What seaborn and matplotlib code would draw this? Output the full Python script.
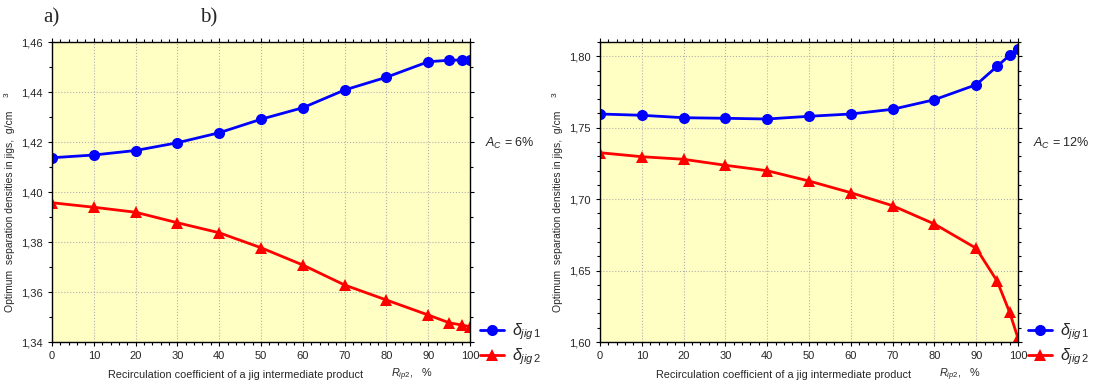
import numpy as np
import pandas as pd
import matplotlib
matplotlib.use("Agg")
import matplotlib.pyplot as plt
import seaborn as sns
from matplotlib.ticker import MultipleLocator, FuncFormatter
from matplotlib.lines import Line2D

# Data
recirc = [0, 10, 20, 30, 40, 50, 60, 70, 80, 90, 95, 98, 100]

# a) A_C = 6%
jig1_a = [1.4137, 1.4148, 1.4166, 1.4197, 1.4237, 1.4291, 1.4337, 1.4408, 1.4459, 1.4521, 1.4527, 1.4528, 1.4528]
jig2_a = [1.3957, 1.3939, 1.3919, 1.3877, 1.3837, 1.3777, 1.3708, 1.3628, 1.3568, 1.3508, 1.3477, 1.3468, 1.3461]

# b) A_C = 12%
jig1_b = [1.7596, 1.7587, 1.7570, 1.7566, 1.7561, 1.7580, 1.7596, 1.7629, 1.7696, 1.7801, 1.7930, 1.8007, 1.8049]
jig2_b = [1.7325, 1.7297, 1.7279, 1.7237, 1.7199, 1.7127, 1.7045, 1.6954, 1.6826, 1.6656, 1.6427, 1.6208, 1.6026]

series_names = ["jig1", "jig2"]
ac_labels = ["$A_C$ = 6%", "$A_C$ = 12%"]
panel_letters = ["a)", "b)"]

sns.set_style("ticks")
plt.rcParams["font.family"] = ["Liberation Sans", "DejaVu Sans"]
plt.rcParams["mathtext.fontset"] = "custom"
plt.rcParams["mathtext.rm"] = "Liberation Sans"
plt.rcParams["mathtext.it"] = "Liberation Sans:italic"
plt.rcParams["mathtext.bf"] = "Liberation Sans:bold"

fig = plt.figure(figsize=(11.01, 3.89), dpi=100)
W, H = 1101, 389
ax_a = fig.add_axes([52 / W, 47 / H, 418 / W, 300 / H])
ax_b = fig.add_axes([600 / W, 47 / H, 418 / W, 300 / H])

comma = FuncFormatter(lambda v, p: f"{v:.2f}".replace(".", ","))
palette = {"jig1": "#0000FF", "jig2": "#FF0000"}
markers = {"jig1": "o", "jig2": "^"}

panels = [
    (ax_a, jig1_a, jig2_a, (1.34, 1.46), 0.02, 0.01),
    (ax_b, jig1_b, jig2_b, (1.60, 1.81), 0.05, 0.01),
]

for i, (ax, s1, s2, ylim, major, minor) in enumerate(panels):
    df = pd.DataFrame({
        "R": recirc * 2,
        "delta": s1 + s2,
        "series": ["jig1"] * len(recirc) + ["jig2"] * len(recirc),
    })
    sns.lineplot(data=df, x="R", y="delta", hue="series", style="series",
                 palette=palette, markers=markers, dashes=False,
                 linewidth=2, markersize=8, markeredgewidth=0,
                 legend=False, ax=ax)
    ax.set_facecolor("#FFFFC4")
    ax.set_xlim(0, 100)
    ax.set_ylim(*ylim)
    ax.xaxis.set_major_locator(MultipleLocator(10))
    ax.xaxis.set_minor_locator(MultipleLocator(2))
    ax.yaxis.set_major_locator(MultipleLocator(major))
    ax.yaxis.set_minor_locator(MultipleLocator(minor))
    ax.yaxis.set_major_formatter(comma)
    ax.grid(True, which="major", linestyle=":", color="#b0b0b0", linewidth=0.8)
    ax.tick_params(which="both", top=True, right=True, labelsize=8, color="black")
    ax.tick_params(which="major", length=3, width=0.8)
    ax.tick_params(which="minor", length=2, width=0.8)
    for sp in ax.spines.values():
        sp.set_color("black")
        sp.set_linewidth(1.0)
    ax.set_xlabel("")
    ax.set_ylabel("")

    # axis titles
    ax.text(0.134, -0.11, "Recirculation coefficient of a jig intermediate product",
            transform=ax.transAxes, fontsize=7.8, va="center", ha="left")
    ax.text(0.81, -0.11, "$R_{ip2}$,   %", transform=ax.transAxes,
            fontsize=7.8, va="center", ha="left")
    ax.text(-0.10, 0.437, "Optimum  separation densities in jigs,  g/cm",
            transform=ax.transAxes, fontsize=7.5, rotation=90,
            va="center", ha="center")
    ax.text(-0.108, 0.823, "3", transform=ax.transAxes, fontsize=6,
            rotation=90, va="center", ha="center")

    ax.text(1.036, 0.663, ac_labels[i], transform=ax.transAxes,
            fontsize=9, va="center", ha="left")

    handles = [
        Line2D([], [], color=palette["jig1"], marker="o", linewidth=2,
               markersize=8, markeredgewidth=0),
        Line2D([], [], color=palette["jig2"], marker="^", linewidth=2,
               markersize=8, markeredgewidth=0),
    ]
    ax.legend(handles, [r"$\delta_{jig\,1}$", r"$\delta_{jig\,2}$"],
              loc="center left", bbox_to_anchor=(1.025, -0.008),
              frameon=False, fontsize=11.5, handlelength=1.5,
              handletextpad=0.5, labelspacing=0.3, borderpad=0,
              borderaxespad=0)

fig.text(43 / W, 1 - 18 / H, panel_letters[0], family="Liberation Serif",
         fontsize=15, va="center", ha="left")
fig.text(200 / W, 1 - 18 / H, panel_letters[1], family="Liberation Serif",
         fontsize=15, va="center", ha="left")

fig.savefig("out.png", dpi=100)
